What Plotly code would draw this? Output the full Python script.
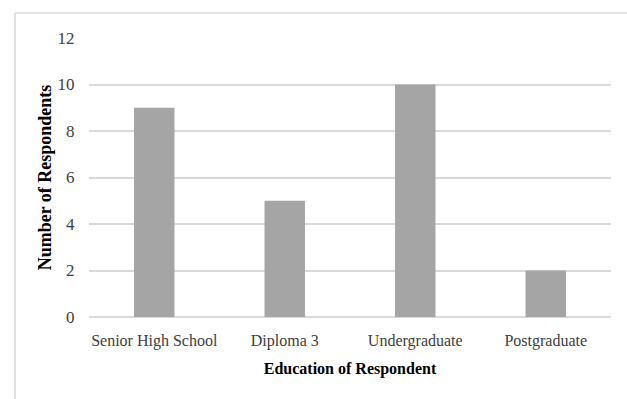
import plotly.graph_objects as go

categories = ["Senior High School", "Diploma 3", "Undergraduate", "Postgraduate"]
respondents = [9, 5, 10, 2]
y_ticks = [0, 2, 4, 6, 8, 10, 12]

fig = go.Figure()
fig.add_trace(go.Bar(
    x=categories, y=respondents,
    marker=dict(color="#a5a5a5", line=dict(width=0)),
    width=0.31,
))

L, R, T, B = 89, 16, 38, 82
W, H = 627, 399
pw = W - L - R
ph = H - T - B
bx = (15 - L) / pw
by = (H - B - 13) / ph

fig.update_layout(
    width=W, height=H,
    margin=dict(l=L, r=R, t=T, b=B),
    paper_bgcolor="white", plot_bgcolor="white",
    font=dict(family="Liberation Serif", size=16, color="#404040"),
    showlegend=False,
    xaxis=dict(
        showgrid=False, showline=False, zeroline=False,
        ticks="outside", ticklen=9, tickcolor="rgba(0,0,0,0)",
        tickfont=dict(size=16, color="#404040"),
        title=dict(text="<b>Education of Respondent</b>",
                   font=dict(size=16, color="#000000"), standoff=13),
    ),
    yaxis=dict(
        range=[0, 12], tickvals=y_ticks, showgrid=True,
        gridcolor="#d9d9d9", gridwidth=1.5,
        zeroline=True, zerolinecolor="#d9d9d9", zerolinewidth=1.5,
        showline=False, ticks="outside", ticklen=10, tickcolor="rgba(0,0,0,0)",
        tickfont=dict(size=17, color="#404040"),
        title=dict(text="<b>Number of Respondents</b>",
                   font=dict(size=18, color="#000000"), standoff=1),
    ),
    shapes=[
        dict(type="line", xref="paper", yref="paper", x0=bx, x1=1.2, y0=by, y1=by,
             line=dict(color="#d9d9d9", width=1.5)),
        dict(type="line", xref="paper", yref="paper", x0=bx, x1=bx, y0=by, y1=-0.5,
             line=dict(color="#d9d9d9", width=1.5)),
    ],
)

fig.write_html("out.html")
